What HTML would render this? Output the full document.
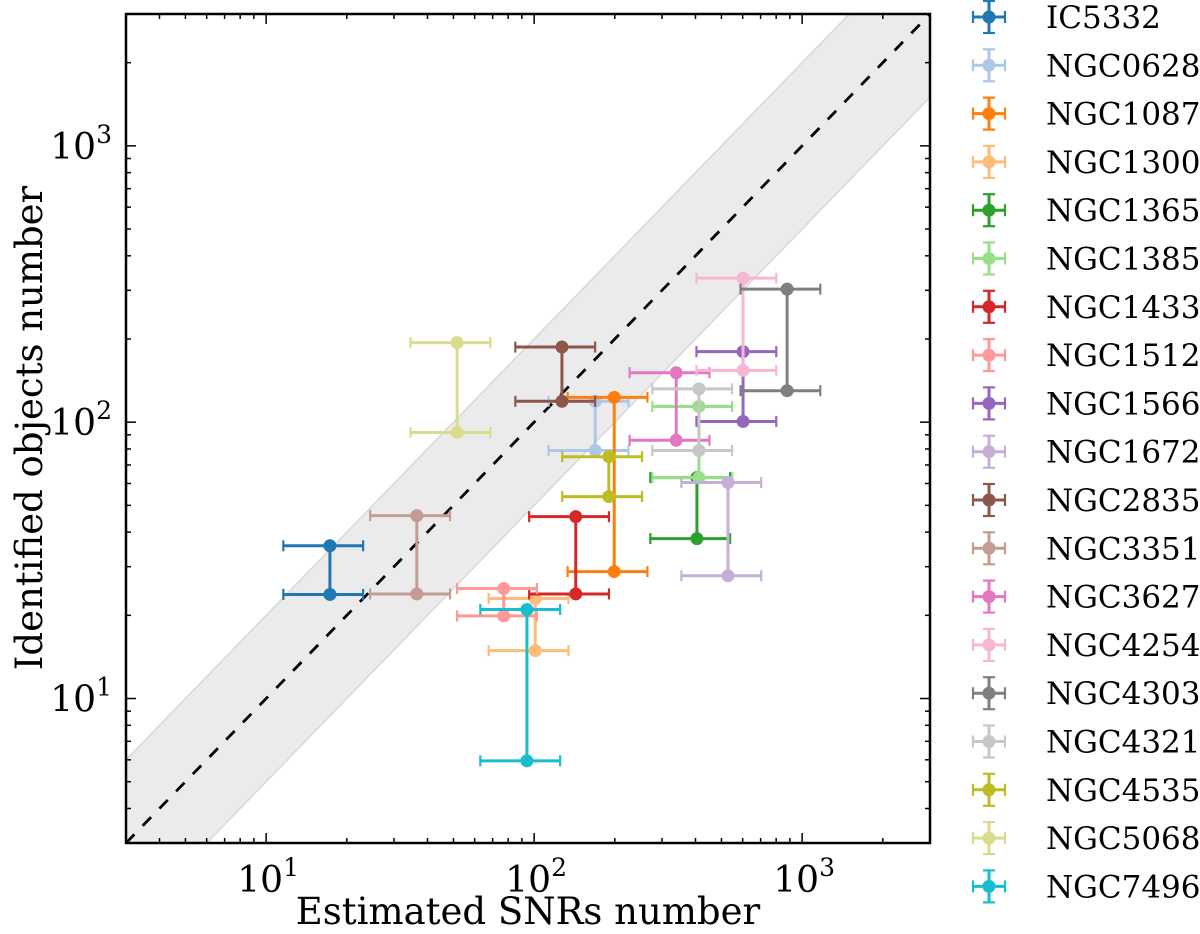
<!DOCTYPE html>
<html><head><meta charset="utf-8"><style>
html,body{margin:0;padding:0;background:#fff;}
svg{display:block;font-family:"DejaVu Serif","Liberation Serif",serif;}
</style></head><body>
<svg id="chart" width="1200" height="934" viewBox="0 0 1200 934" xmlns="http://www.w3.org/2000/svg"></svg>
<script>
const names = ["IC5332","NGC0628","NGC1087","NGC1300","NGC1365","NGC1385","NGC1433","NGC1512","NGC1566","NGC1672","NGC2835","NGC3351","NGC3627","NGC4254","NGC4303","NGC4321","NGC4535","NGC5068","NGC7496"];
const colors = ["#1f77b4","#aec7e8","#ff7f0e","#ffbb78","#2ca02c","#98df8a","#d62728","#ff9896","#9467bd","#c5b0d5","#8c564b","#c49c94","#e377c2","#f7b6d2","#7f7f7f","#c7c7c7","#bcbd22","#dbdb8d","#17becf"];
const snrEstimated = [17.3,169,199,101,405,412,143,77,602,529,127,36.5,339,602,879,412,190,51.6,94];
const identifiedHigh = [35.7,119,123,23,63,114,45.5,25,180,60.5,187,45.9,151,332,303,132,75,194,21];
const identifiedLow = [23.8,79,28.8,14.9,37.9,63,23.9,19.9,100.6,27.8,119,23.9,86,154,130,79,53.8,91.8,5.95];
const xErrFrac = [0.33,0.33,0.33,0.33,0.33,0.33,0.33,0.33,0.33,0.33,0.33,0.33,0.33,0.33,0.33,0.33,0.33,0.33,0.33];
const tickExps = [1,2,3];

const NS="http://www.w3.org/2000/svg";
const svg=document.getElementById('chart');
const L=126,R=930,T=14,B=843,LMIN=Math.log10(3),LMAX=Math.log10(3000);
function sx(v){return L+(Math.log10(v)-LMIN)/(LMAX-LMIN)*(R-L);}
function sy(v){return B-(Math.log10(v)-LMIN)/(LMAX-LMIN)*(B-T);}
function el(tag,attrs,parent){const e=document.createElementNS(NS,tag);for(const k in attrs)e.setAttribute(k,attrs[k]);(parent||svg).appendChild(e);return e;}

const defs=el('defs',{});
const cp=el('clipPath',{id:'clip'},defs);
el('rect',{x:L,y:T,width:R-L,height:B-T},cp);

const band=el('polygon',{points:[[sx(3),sy(6)],[sx(1500),sy(3000)],[sx(3000),sy(3000)],[sx(3000),sy(1500)],[sx(6),sy(3)],[sx(3),sy(3)]].map(p=>p.join(',')).join(' '),fill:'#ebebeb',stroke:'#d8d8d8','stroke-width':1.5,'clip-path':'url(#clip)'});


const one=el('line',{x1:sx(3),y1:sy(3),x2:sx(3000),y2:sy(3000),stroke:'#000','stroke-width':2.8,'stroke-dasharray':'12,12'});



const cap=5.5;
for(let i=0;i<names.length;i++){
  const g=el('g',{stroke:colors[i],fill:colors[i],'stroke-width':3,'clip-path':'url(#clip)'});
  
  
  const x=sx(snrEstimated[i]);
  const xl=sx(snrEstimated[i]*(1-xErrFrac[i])),xr=sx(snrEstimated[i]*(1+xErrFrac[i]));
  el('line',{x1:x,y1:sy(identifiedHigh[i]),x2:x,y2:sy(identifiedLow[i])},g);
  [identifiedHigh[i],identifiedLow[i]].forEach(v=>{
    const y=sy(v);
    el('line',{x1:xl,y1:y,x2:xr,y2:y},g);
    el('line',{x1:xl,y1:y-cap,x2:xl,y2:y+cap,'stroke-width':2.2},g);
    el('line',{x1:xr,y1:y-cap,x2:xr,y2:y+cap,'stroke-width':2.2},g);
    el('circle',{cx:x,cy:y,r:6.5,stroke:'none'},g);
  });
}

const frame=el('rect',{x:L,y:T,width:R-L,height:B-T,fill:'none',stroke:'#000','stroke-width':2.5});



const tg=el('g',{stroke:'#000','stroke-width':1.5});


for(let d=0;d<=3;d++){for(let m=1;m<10;m++){const v=m*Math.pow(10,d);if(v<3||v>3000)continue;
  const len=m===1?10:5;const X=sx(v),Y=sy(v);
  el('line',{x1:X,y1:B,x2:X,y2:B-len},tg);el('line',{x1:X,y1:T,x2:X,y2:T+len},tg);
  el('line',{x1:L,y1:Y,x2:L+len,y2:Y},tg);el('line',{x1:R,y1:Y,x2:R-len,y2:Y},tg);}}

tickExps.forEach(e=>{
  const v=Math.pow(10,e);
  const tx=el('text',{x:sx(v)+2,y:B+49,'font-size':36,'text-anchor':'middle'});
  
  
  tx.innerHTML='10<tspan dy="-16" font-size="25">'+e+'</tspan>';
  const ty=el('text',{x:L-14,y:sy(v)+13,'font-size':36,'text-anchor':'end'});
  
  
  ty.innerHTML='10<tspan dy="-16" font-size="25">'+e+'</tspan>';
});

const xt=el('text',{x:528,y:924,'font-size':37,'text-anchor':'middle'});


xt.textContent='Estimated SNRs number';
const yt=el('text',{x:0,y:0,'font-size':37,'text-anchor':'middle',transform:'translate(42,428) rotate(-90)'});


yt.textContent='Identified objects number';

const lg=el('g',{});


for(let i=0;i<names.length;i++){
  const cy=17+i*48.3;
  const g=el('g',{stroke:colors[i],fill:colors[i],'stroke-width':3},lg);
  
  
  el('line',{x1:973,y1:cy,x2:1005,y2:cy},g);
  el('line',{x1:989,y1:cy-16,x2:989,y2:cy+16},g);
  el('line',{x1:973,y1:cy-6,x2:973,y2:cy+6,'stroke-width':2.2},g);
  el('line',{x1:1005,y1:cy-6,x2:1005,y2:cy+6,'stroke-width':2.2},g);
  el('line',{x1:983,y1:cy-16,x2:995,y2:cy-16,'stroke-width':2.2},g);
  el('line',{x1:983,y1:cy+16,x2:995,y2:cy+16,'stroke-width':2.2},g);
  el('circle',{cx:989,cy:cy,r:6.5,stroke:'none'},g);
  const t=el('text',{x:1046,y:cy+11,'font-size':31,fill:'#000',stroke:'none'},g);
  t.textContent=names[i];
}
</script>
</body></html>
